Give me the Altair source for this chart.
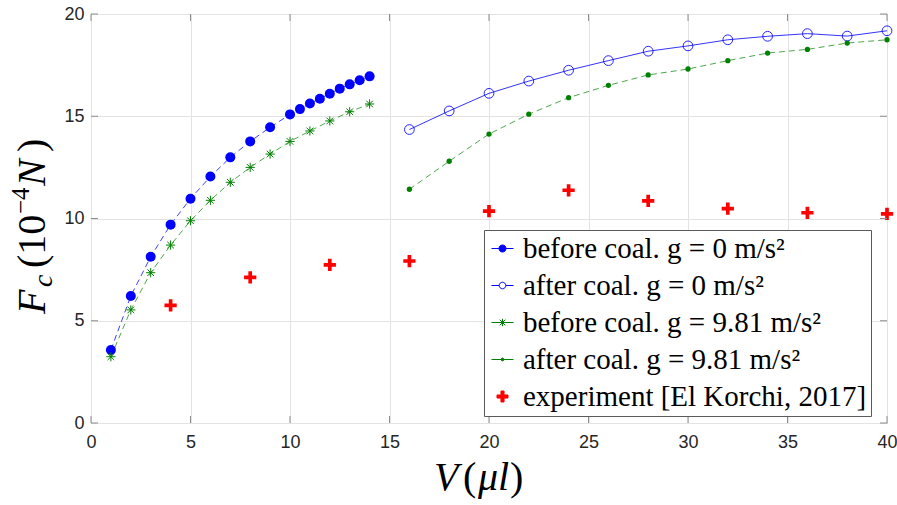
import altair as alt
import pandas as pd

# ---------------- data ----------------
x_before_g0 = [1, 2, 3, 4, 5, 6, 7, 8, 9, 10, 10.5, 11, 11.5, 12, 12.5, 13, 13.5, 14]
y_before_g0 = [3.57, 6.21, 8.13, 9.70, 10.97, 12.05, 12.99, 13.77, 14.46, 15.09,
               15.35, 15.62, 15.86, 16.10, 16.35, 16.56, 16.76, 16.95]

x_before_g981 = [1, 2, 3, 4, 5, 6, 7, 8, 9, 10, 11, 12, 13, 14]
y_before_g981 = [3.24, 5.53, 7.35, 8.70, 9.89, 10.89, 11.77, 12.50, 13.15, 13.77,
                 14.28, 14.77, 15.22, 15.60]

x_after = [16, 18, 20, 22, 24, 26, 28, 30, 32, 34, 36, 38, 40]
y_after_g0 = [14.35, 15.26, 16.12, 16.72, 17.25, 17.72, 18.18, 18.44, 18.74, 18.91,
              19.04, 18.92, 19.18]
y_after_g981 = [11.43, 12.80, 14.13, 15.10, 15.91, 16.51, 17.02, 17.31, 17.72, 18.09,
                18.27, 18.58, 18.74]

x_exp = [4, 8, 12, 16, 20, 24, 28, 32, 36, 40]
y_exp = [5.75, 7.12, 7.73, 7.92, 10.36, 11.38, 10.86, 10.48, 10.28, 10.23]

series_names = [
    "before coal. g = 0 m/s²",
    "after coal. g = 0 m/s²",
    "before coal. g = 9.81 m/s²",
    "after coal. g = 9.81 m/s²",
    "experiment [El Korchi, 2017]",
]

x_ticks = [0, 5, 10, 15, 20, 25, 30, 35, 40]
y_ticks = [0, 5, 10, 15, 20]

# ---------------- helpers ----------------
W, H = 796, 409
BLUE = "#0000ff"
GREEN = "#008000"
RED = "#ff0000"
FRAME = "#8c8c8c"
LABEL_FONT = "Liberation Sans"
MATH_FONT = "Liberation Serif"


def frame(xs, ys, name):
    return pd.DataFrame({"V": xs, "F": ys, "series": name})


df_b0 = frame(x_before_g0, y_before_g0, series_names[0])
df_a0 = frame(x_after, y_after_g0, series_names[1])
df_b9 = frame(x_before_g981, y_before_g981, series_names[2])
df_a9 = frame(x_after, y_after_g981, series_names[3])
df_ex = frame(x_exp, y_exp, series_names[4])
df_all = pd.concat([df_b0, df_a0, df_b9, df_a9, df_ex], ignore_index=True)

xscale = alt.Scale(domain=[0, 40], nice=False, zero=False)
yscale = alt.Scale(domain=[0, 20], nice=False, zero=False)

xaxis = alt.Axis(values=x_ticks, title=None, ticks=False, domain=False, grid=True,
                 gridColor="#e3e3e3", gridWidth=1, labelFont=LABEL_FONT, labelFontSize=18,
                 labelColor="#262626", labelPadding=10, labelFlush=False)
yaxis = alt.Axis(values=y_ticks, title=None, ticks=False, domain=False, grid=True,
                 gridColor="#e3e3e3", gridWidth=1, labelFont=LABEL_FONT, labelFontSize=18,
                 labelColor="#262626", labelPadding=7)


def X(field="V"):
    return alt.X(f"{field}:Q", scale=xscale, axis=xaxis)


def Y(field="F"):
    return alt.Y(f"{field}:Q", scale=yscale, axis=yaxis)


STAR = "M-1,0H1M0,-1V1M-0.72,-0.72L0.72,0.72M-0.72,0.72L0.72,-0.72"
PLUS = "M-0.3,-1H0.3V-0.3H1V0.3H0.3V1H-0.3V0.3H-1V-0.3H-0.3Z"

# legend symbols: line + marker
LEG_B0 = "M-1,0H-0.32M0.32,0H1M-0.32,0A0.32,0.32 0 1,0 0.32,0A0.32,0.32 0 1,0 -0.32,0Z"
LEG_A0 = "M-1,0H-0.3M0.3,0H1M-0.3,0A0.3,0.3 0 1,0 0.3,0A0.3,0.3 0 1,0 -0.3,0Z"
LEG_B9 = "M-1,0H1M0,-0.34V0.34M-0.26,-0.26L0.26,0.26M-0.26,0.26L0.26,-0.26"
LEG_A9 = "M-1,0H1M-0.13,0A0.13,0.13 0 1,0 0.13,0A0.13,0.13 0 1,0 -0.13,0Z"
LEG_EX = "M-0.14,-0.5H0.14V-0.14H0.5V0.14H0.14V0.5H-0.14V0.14H-0.5V-0.14H-0.14Z"

# ---------------- data layers ----------------
line_b0 = alt.Chart(df_b0).mark_line(color=BLUE, strokeWidth=1, strokeDash=[6, 4],
                                     opacity=0.75).encode(x=X(), y=Y())
pts_b0 = alt.Chart(df_b0).mark_point(shape="circle", filled=True, color=BLUE, size=100,
                                     opacity=1).encode(x=X(), y=Y())

line_a0 = alt.Chart(df_a0).mark_line(color=BLUE, strokeWidth=1, opacity=0.8).encode(x=X(), y=Y())
pts_a0 = alt.Chart(df_a0).mark_point(shape="circle", filled=False, color=BLUE, size=95,
                                     strokeWidth=1, opacity=0.85).encode(x=X(), y=Y())

line_b9 = alt.Chart(df_b9).mark_line(color=GREEN, strokeWidth=1, strokeDash=[6, 4],
                                     opacity=0.7).encode(x=X(), y=Y())
pts_b9 = alt.Chart(df_b9).mark_point(shape=STAR, filled=False, color=GREEN, size=85,
                                     strokeWidth=1, opacity=1).encode(x=X(), y=Y())

line_a9 = alt.Chart(df_a9).mark_line(color=GREEN, strokeWidth=1, strokeDash=[6, 4],
                                     opacity=0.7).encode(x=X(), y=Y())
pts_a9 = alt.Chart(df_a9).mark_point(shape="circle", filled=True, color=GREEN, size=28,
                                     opacity=1).encode(x=X(), y=Y())

pts_ex = alt.Chart(df_ex).mark_point(shape=PLUS, filled=True, color=RED, size=150,
                                     opacity=1).encode(x=X(), y=Y())

# ---------------- legend (from an invisible layer over all series) ----------------
leg_common = dict(
    orient="none", legendX=393, legendY=216, title=None,
    symbolSize=484, symbolStrokeWidth=1, symbolOpacity=1,
    labelFont=MATH_FONT, labelFontSize=29, labelColor="#000000", labelLimit=600,
    labelOffset=6, rowPadding=7, padding=4,
    strokeColor="#5a5a5a", fillColor="#ffffff", cornerRadius=0,
)
legend_layer = alt.Chart(df_all).mark_point(opacity=0, strokeWidth=1).encode(
    x=X(), y=Y(),
    shape=alt.Shape("series:N", scale=alt.Scale(domain=series_names,
                    range=[LEG_B0, LEG_A0, LEG_B9, LEG_A9, LEG_EX]),
                    legend=alt.Legend(**leg_common)),
    stroke=alt.Stroke("series:N", scale=alt.Scale(domain=series_names,
                      range=[BLUE, BLUE, GREEN, GREEN, RED]),
                      legend=alt.Legend(**leg_common)),
    fill=alt.Fill("series:N", scale=alt.Scale(domain=series_names,
                  range=[BLUE, "transparent", "transparent", GREEN, RED]),
                  legend=alt.Legend(**leg_common)),
)

# ---------------- inside tick marks on all four sides ----------------
df_xt = pd.DataFrame({"V": x_ticks})
df_yt = pd.DataFrame({"F": y_ticks})
TL = 7
xt_bottom = alt.Chart(df_xt).mark_rule(color=FRAME, strokeWidth=1).encode(
    x=X(), y=alt.value(H), y2=alt.value(H - TL))
xt_top = alt.Chart(df_xt).mark_rule(color=FRAME, strokeWidth=1).encode(
    x=X(), y=alt.value(0), y2=alt.value(TL))
yt_left = alt.Chart(df_yt).mark_rule(color=FRAME, strokeWidth=1).encode(
    y=Y(), x=alt.value(0), x2=alt.value(TL))
yt_right = alt.Chart(df_yt).mark_rule(color=FRAME, strokeWidth=1).encode(
    y=Y(), x=alt.value(W), x2=alt.value(W - TL))

# ---------------- axis titles (math style, built from text pieces) ----------------
one = pd.DataFrame({"k": [0]})
OX, OY = 91, 14  # plot origin in page pixels


def piece(text, px, py, size, italic, angle=0):
    kw = dict(text=text, font=MATH_FONT, fontSize=size, align="left",
              baseline="alphabetic", color="#000000")
    if italic:
        kw["fontStyle"] = "italic"
    if angle:
        kw["angle"] = angle
    return alt.Chart(one).mark_text(**kw).encode(x=alt.value(px - OX), y=alt.value(py - OY))


ytitle = [
    piece("F", 45, 314, 40, True, 270),
    piece("c", 52, 287, 28, True, 270),
    piece("(10", 45, 268, 40, False, 270),
    piece("−4", 29, 214, 25, False, 270),
    piece("N", 45, 186, 40, True, 270),
    piece(")", 45, 152, 40, False, 270),
]
xtitle = [
    piece("V", 434, 490, 40, True),
    piece("(", 463, 490, 40, False),
    piece("μl", 478, 490, 40, True),
    piece(")", 510, 490, 40, False),
]

chart = alt.layer(
    line_b0, line_a0, line_b9, line_a9,
    pts_b0, pts_a0, pts_b9, pts_a9, pts_ex,
    legend_layer,
    xt_bottom, xt_top, yt_left, yt_right,
    *ytitle, *xtitle,
).properties(
    width=W, height=H,
    autosize=alt.AutoSizeParams(type="none"),
    padding={"left": 91, "top": 14, "right": 10, "bottom": 82},
    background="#ffffff",
).configure_view(
    stroke=FRAME, strokeWidth=1,
).configure_legend(
    labelFont=MATH_FONT, labelColor="#000000",
)

chart.save("out.html", embed_options={"renderer": "svg", "actions": False})
